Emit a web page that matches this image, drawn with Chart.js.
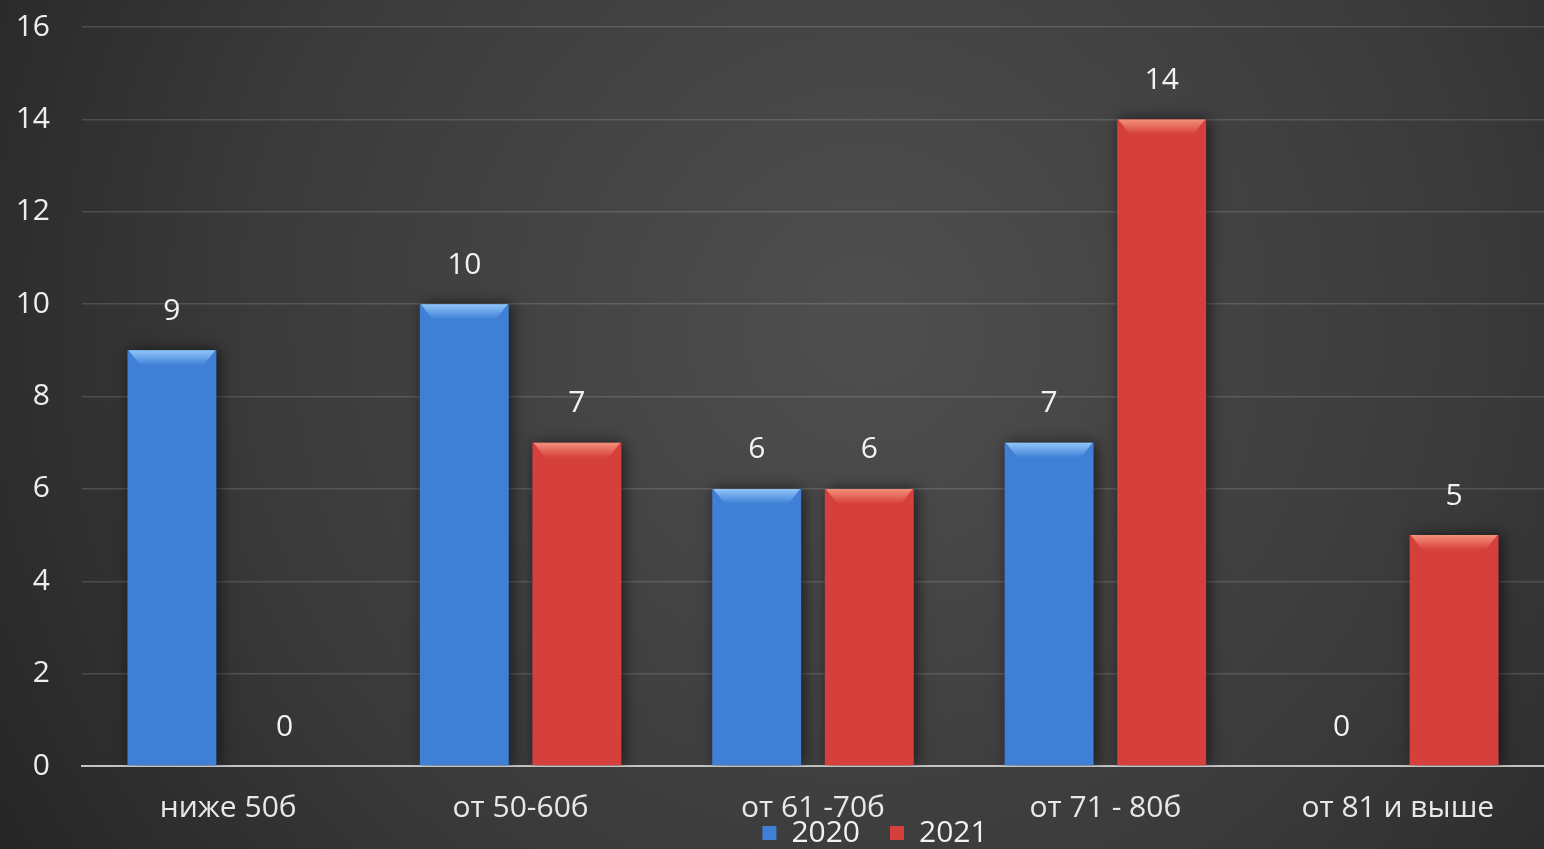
<!DOCTYPE html>
<html><head><meta charset="utf-8">
<script src="https://cdn.jsdelivr.net/npm/chart.js@4.4.0/dist/chart.umd.min.js"></script>
<style>html,body{margin:0;padding:0;background:#333;overflow:hidden}#wrap{width:1544px;height:849px;position:relative}</style>
</head><body><div id="wrap"><canvas id="c"></canvas></div>
<script>
const categories = ["ниже 50б", "от 50-60б", "от 61 -70б", "от 71 - 80б", "от 81 и выше"];
const series2020 = [9, 10, 6, 7, 0];
const series2021 = [0, 7, 6, 14, 5];
const seriesNames = ["2020", "2021"];
const yTicks = [0, 2, 4, 6, 8, 10, 12, 14, 16];

const FONT = "'Open Sans', 'Noto Sans', sans-serif";
const FS = 30;

const palettes = [
  {dark: '#24559a', mid: '#3f80d6', light: '#92c6f8'},
  {dark: '#902624', mid: '#d6403c', light: '#f4907c'}
];

function barGrad(c, pal) {
  const el = c.element;
  if (!el || !isFinite(el.x) || !isFinite(el.width) || !el.width) return pal.mid;
  const x0 = el.x - el.width / 2, x1 = el.x + el.width / 2;
  const g = c.chart.ctx.createLinearGradient(x0, 0, x1, 0);
  g.addColorStop(0, pal.dark);
  g.addColorStop(0.06, pal.mid);
  g.addColorStop(0.88, pal.mid);
  g.addColorStop(1, pal.dark);
  return g;
}

const bgPlugin = {
  id: 'bg',
  beforeDraw(chart) {
    const {ctx, width, height} = chart;
    const g = ctx.createRadialGradient(width * 0.56, height * 0.38, 20, width * 0.56, height * 0.38, width * 0.66);
    g.addColorStop(0, '#4e4e4e');
    g.addColorStop(0.6, '#3a3a3a');
    g.addColorStop(1, '#252525');
    ctx.save();
    ctx.fillStyle = g;
    ctx.fillRect(0, 0, width, height);
    ctx.restore();
  }
};

// move the legend up so it sits just under the category labels, as in the reference
const legendShift = {
  id: 'legendShift',
  afterLayout(chart) {
    const l = chart.legend;
    if (!l) return;
    l.top -= 38; l.bottom -= 38;
    l.left += 103; l.right += 103;
  }
};

const barFx = {
  id: 'barFx',
  beforeDatasetDraw(chart, args) {
    const ctx = chart.ctx;
    ctx.save();
    ctx.shadowColor = 'rgba(0,0,0,0.6)';
    ctx.shadowBlur = 14;
    ctx.shadowOffsetX = 3;
    ctx.shadowOffsetY = 0;
  },
  afterDatasetDraw(chart, args) {
    const ctx = chart.ctx;
    ctx.restore();
    const meta = args.meta;
    const pal = palettes[args.index];
    meta.data.forEach((el, i) => {
      const v = chart.data.datasets[args.index].data[i];
      if (!v) return;
      const x0 = el.x - el.width / 2, x1 = el.x + el.width / 2, top = el.y;
      const h = 15, inset = 13;
      ctx.save();
      const g = ctx.createLinearGradient(0, top, 0, top + h);
      g.addColorStop(0, pal.light);
      g.addColorStop(1, pal.mid);
      ctx.fillStyle = g;
      ctx.beginPath();
      ctx.moveTo(x0 + 1, top);
      ctx.lineTo(x1 - 1, top);
      ctx.lineTo(x1 - inset, top + h);
      ctx.lineTo(x0 + inset, top + h);
      ctx.closePath();
      ctx.fill();
      ctx.restore();
    });
  }
};

const labelPlugin = {
  id: 'valLabels',
  afterDatasetsDraw(chart) {
    const ctx = chart.ctx;
    ctx.save();
    ctx.font = FS + "px " + FONT;
    ctx.fillStyle = '#f2f2f2';
    ctx.textAlign = 'center';
    ctx.textBaseline = 'middle';
    chart.data.datasets.forEach((ds, di) => {
      const meta = chart.getDatasetMeta(di);
      meta.data.forEach((el, i) => {
        ctx.fillText(String(ds.data[i]), el.x, el.y - 39);
      });
    });
    ctx.restore();
  }
};

new Chart(document.getElementById('c'), {
  type: 'bar',
  data: {
    labels: categories,
    datasets: [
      {label: seriesNames[0], data: series2020, backgroundColor: (c) => barGrad(c, palettes[0])},
      {label: seriesNames[1], data: series2021, backgroundColor: (c) => barGrad(c, palettes[1])}
    ]
  },
  options: {
    responsive: true,
    maintainAspectRatio: false,
    animation: false,
    devicePixelRatio: 1,
    layout: {padding: {top: 0, right: 0, left: 0, bottom: -47}},
    categoryPercentage: 0.77,
    barPercentage: 0.79,
    plugins: {
      legend: {
        position: 'bottom',
        labels: {
          color: '#f2f2f2',
          font: {family: FONT, size: FS},
          boxWidth: 14, boxHeight: 14, padding: 30,
          generateLabels(chart) {
            return chart.data.datasets.map((d, i) => ({
              text: d.label, fillStyle: palettes[i].mid, strokeStyle: palettes[i].mid,
              lineWidth: 0, fontColor: '#f2f2f2', datasetIndex: i, hidden: false
            }));
          }
        }
      },
      tooltip: {enabled: false}
    },
    scales: {
      x: {
        afterFit(scale) { scale.height = 60; },
        grid: {display: false, drawTicks: false},
        border: {display: true, color: '#c4c4c4', width: 2},
        ticks: {color: '#e8e8e8', font: {family: FONT, size: FS}, padding: 24}
      },
      y: {
        min: 0, max: 16,
        afterFit(scale) { scale.width = 82; scale.paddingTop = 27; scale.paddingBottom = 0; },
        afterBuildTicks(scale) { scale.ticks = yTicks.map(v => ({value: v})); },
        grid: {color: 'rgba(255,255,255,0.14)', lineWidth: 1.5, drawTicks: false},
        border: {display: false},
        ticks: {color: '#eeeeee', font: {family: FONT, size: FS}, padding: 32}
      }
    }
  },
  plugins: [bgPlugin, legendShift, barFx, labelPlugin]
});
</script></body></html>
